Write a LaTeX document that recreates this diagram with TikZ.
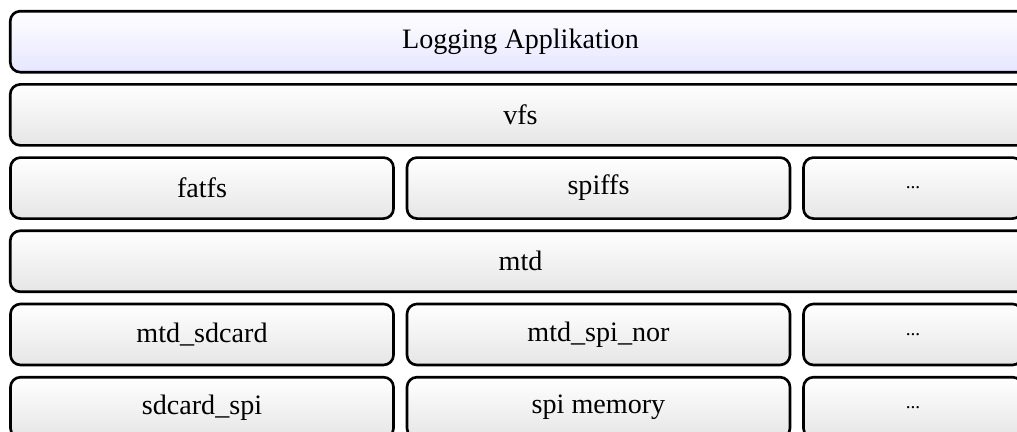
\documentclass[tikz,border=0pt]{standalone}
\usepackage{fontspec}
\setmainfont{Liberation Serif}
\begin{document}
\begin{tikzpicture}[
	layer/.style = {draw = black, line width = 1.5pt, rounded corners = 0.2cm, top color = white, bottom color = black!10, minimum height = 1.22cm, inner sep = 0pt, font = \fontsize{16}{19}\selectfont},
	app/.style = {layer, bottom color = blue!10},
	wide/.style = {minimum width = 20.41cm},
	col/.style = {minimum width = 7.66cm},
	more/.style = {minimum width = 4.38cm, font = \fontsize{11}{13}\selectfont}
]
	\useasboundingbox (0, 0) rectangle (20.34, 8.64);
	% upper layers
	\node[app, wide] (logging) at (10.41, 7.806) {Logging Applikation};
	\node[layer, wide] (vfs) at (10.41, 6.342) {vfs};
	\node[layer, col] (fatfs) at (4.04, 4.878) {fatfs};
	\node[layer, col] (spiffs) at (11.97, 4.878) {spiffs};
	\node[layer, more] (fsmore) at (18.26, 4.878) {...};
	\node[layer, wide] (mtd) at (10.41, 3.414) {mtd};
	% drivers
	\node[layer, col] (mtdsd) at (4.04, 1.95) {mtd\_sdcard};
	\node[layer, col] (mtdnor) at (11.97, 1.95) {mtd\_spi\_nor};
	\node[layer, more] (mtdmore) at (18.26, 1.95) {...};
	\node[layer, col] (sdspi) at (4.04, 0.486) {sdcard\_spi};
	\node[layer, col] (spimem) at (11.97, 0.486) {spi memory};
	\node[layer, more] (devmore) at (18.26, 0.486) {...};
\end{tikzpicture}
\end{document}
